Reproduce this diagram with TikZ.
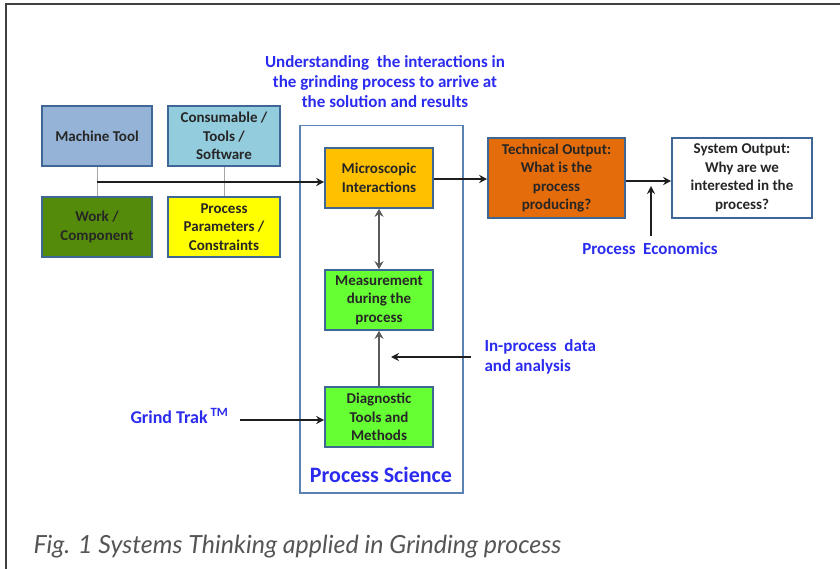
\documentclass[tikz,border=0pt]{standalone}
\usepackage{fontspec}
\setmainfont{Carlito}
\newfontfamily\capfont{Lato}
\usetikzlibrary{arrows.meta}
\definecolor{bordblue}{HTML}{3E6796}
\definecolor{psblue}{HTML}{5A82B4}
\definecolor{mtfill}{HTML}{95B3D7}
\definecolor{cofill}{HTML}{93CDDD}
\definecolor{wkfill}{HTML}{558B0A}
\definecolor{ppfill}{HTML}{FFFF00}
\definecolor{mifill}{HTML}{FFC000}
\definecolor{gnfill}{HTML}{66FF33}
\definecolor{tofill}{HTML}{E46C0A}
\definecolor{bltext}{HTML}{2B2BF0}
\definecolor{captxt}{HTML}{555555}
\definecolor{darrow}{HTML}{1E1E1E}
\definecolor{garrow}{HTML}{5A5A5A}
\begin{document}
\begin{tikzpicture}[x=1pt,y=-1pt,
  boxstyle/.style={draw=bordblue,line width=1.6pt,align=center,inner sep=1pt,
    font=\fontsize{15}{18.5}\selectfont\bfseries,text=black!85},
  bluelabel/.style={text=bltext,font=\fontsize{17}{20}\selectfont\bfseries},
  thinline/.style={draw=gray!70,line width=0.8pt},
  darr/.style={draw=darrow,line width=1.8pt,-{Stealth[length=8pt,width=8pt]}},
  garr/.style={draw=garrow,line width=2.6pt,-{Stealth[length=8pt,width=9pt]}},
  gdarr/.style={draw=garrow,line width=2.6pt,{Stealth[length=8pt,width=9pt]}-{Stealth[length=8pt,width=9pt]}}
]
\useasboundingbox (0,0) rectangle (840,569);
% outer frame
\draw[line width=1.5pt,black!75] (6,569) -- (6,4) -- (840,4);

% process science box
\node[draw=psblue,line width=1.5pt,minimum width=163pt,minimum height=367pt,anchor=north west] (ps) at (299,125) {};

% left boxes
\node[boxstyle,fill=mtfill,minimum width=110pt,minimum height=60pt] (mt) at (97,136) {Machine Tool};
\node[boxstyle,fill=cofill,minimum width=112pt,minimum height=60pt] (co) at (224,136) {Consumable /\\Tools /\\Software};
\node[boxstyle,fill=wkfill,minimum width=110pt,minimum height=60pt] (wk) at (97,227) {Work /\\Component};
\node[boxstyle,fill=ppfill,minimum width=112pt,minimum height=60pt] (pp) at (224,227) {Process\\Parameters /\\Constraints};

% inner boxes
\node[boxstyle,fill=mifill,minimum width=108pt,minimum height=60pt] (mi) at (379,178) {Microscopic\\Interactions};
\node[boxstyle,fill=gnfill,minimum width=108pt,minimum height=60pt] (me) at (379,300) {Measurement\\during the\\process};
\node[boxstyle,fill=gnfill,minimum width=108pt,minimum height=60pt] (dg) at (379,417) {Diagnostic\\Tools and\\Methods};

% output boxes
\node[boxstyle,fill=tofill,minimum width=137pt,minimum height=80pt] (to) at (556.5,178) {Technical Output:\\What is the\\process\\producing?};
\node[boxstyle,fill=white,minimum width=140pt,minimum height=80pt] (so) at (742,178) {System Output:\\Why are we\\interested in the\\process?};

% labels
\node[bluelabel,align=center] (top) at (385,82) {Understanding\ \ the interactions in\\the grinding process to arrive at\\the solution and results};
\node[text=bltext,font=\fontsize{22}{24}\selectfont\bfseries] (pslabel) at (381,475) {Process Science};
\node[bluelabel,align=left,anchor=west] (ip) at (481,357) {In-process\ \ data\\and analysis};
\node[bluelabel,anchor=east,font=\fontsize{18}{20}\selectfont\bfseries] (gt) at (232,416) {Grind Trak\,\textsuperscript{TM}};
\node[bluelabel] (pe) at (650,249) {Process\ \ Economics};

% connectors
\draw[thinline] (mt.south) -- (wk.north);
\draw[thinline] (co.south) -- (pp.north);
\coordinate (j1) at (97,182);
\draw[darr] (j1) -- (j1 -| mi.west);
\draw[darr] (mi.east |- 0,179) -- (to.west |- 0,179);
\draw[darr] (to.east |- 0,181) -- (so.west |- 0,181);
\coordinate (pe0) at (651,236);
\coordinate (pe1) at (651,186);
\draw[darr] (pe0) -- (pe1);
\draw[gdarr] (mi.south) -- (me.north);
\draw[garr] (dg.north) -- (me.south);
\coordinate (ip0) at (471,357);
\coordinate (ip1) at (391,357);
\draw[darr] (ip0) -- (ip1);
\coordinate (gt0) at (240,420);
\draw[darr] (gt0) -- (gt0 -| dg.west);

% caption
\node[anchor=west,text=captxt,font=\capfont\fontsize{25}{28}\selectfont\itshape] (cap) at (30,547) {Fig. 1 Systems Thinking applied in Grinding process};
\end{tikzpicture}
\end{document}
